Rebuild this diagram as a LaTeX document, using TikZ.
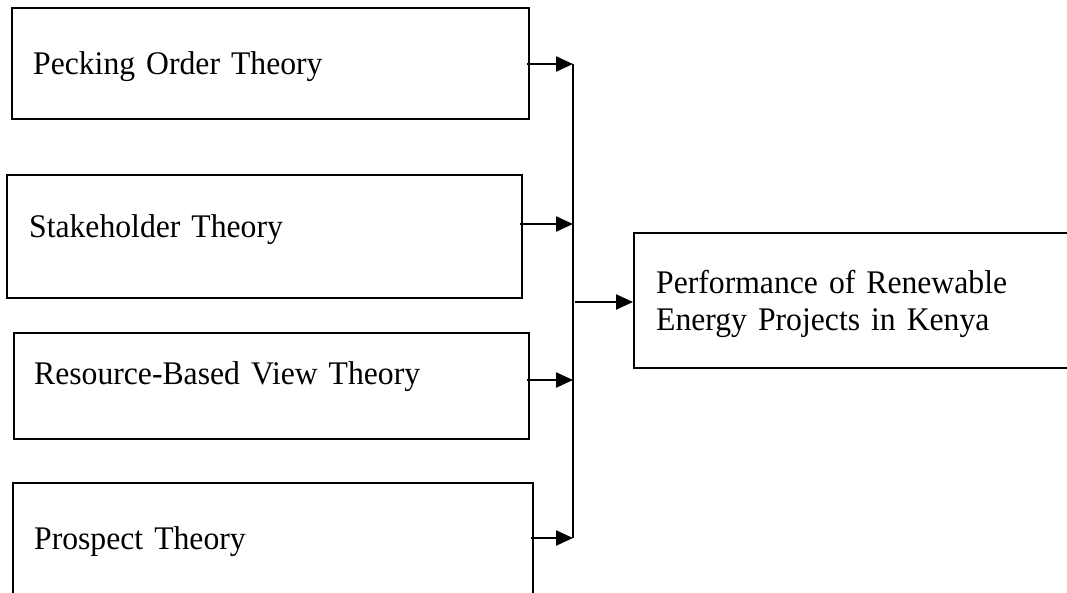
\documentclass[tikz,border=0pt]{standalone}
\usepackage{fontspec}
\setmainfont[FakeStretch=0.96,WordSpace=0.8]{Liberation Serif}
\usetikzlibrary{arrows.meta}
\begin{document}
\begin{tikzpicture}[x=1pt,y=-1pt,
  theory/.style={draw,line width=2.3pt,anchor=north west,inner ysep=0pt,align=left,font=\fontsize{33}{37}\selectfont},
  feed/.style={line width=2.3pt,-{Triangle[length=17pt,width=15pt]}}]
  \useasboundingbox (0,0) rectangle (1067,592);
  \clip (0,0) rectangle (1067,592);
  % Theory boxes: name/left/top/text height/text depth/inner xsep/text width/label
  \foreach \n/\x/\y/\tht/\tdp/\sep/\w/\lbl in {
      1/11/7/66/45/21/475/{Pecking Order Theory},
      2/6/174/62/61/22/471/{Stakeholder Theory},
      3/13/332/51/55/20/475/{Resource-Based View Theory},
      4/12/482/66/62/21/478/{Prospect Theory}}
    {\node[theory,inner xsep=\sep pt,text width=\w pt,text height=\tht pt,text depth=\tdp pt] (T\n) at (\x,\y) {\lbl};}
  % Outcome box
  \node[theory,inner xsep=22pt,text width=420pt,text height=60pt,text depth=75pt] (P) at (633,232) {Performance of Renewable\\Energy Projects in Kenya};
  % Bus and arrows
  \foreach \n/\y in {1/64,2/224,3/380,4/538} {\coordinate (bus\n) at (573,\y);}
  \draw[line width=1.4pt] (bus1) -- (bus4);
  \foreach \n in {1,...,4} {\draw[feed] ([xshift=-3pt]T\n.east |- bus\n) -- (bus\n);}
  \coordinate (busmid) at (575,302);
  \draw[feed] (busmid) -- (P.west |- busmid);
\end{tikzpicture}
\end{document}
